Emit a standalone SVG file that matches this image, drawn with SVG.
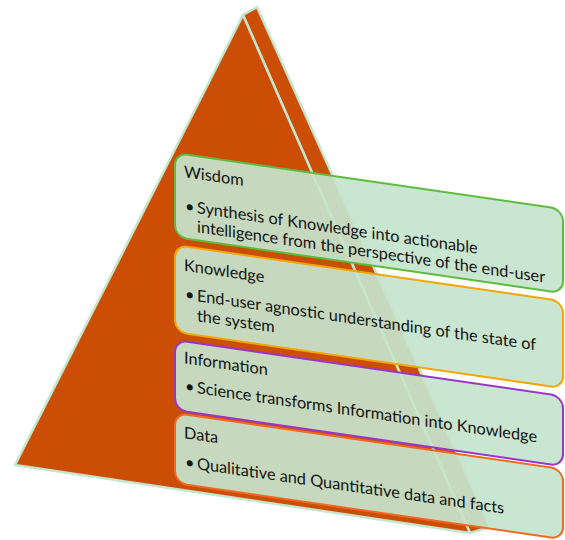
<svg xmlns="http://www.w3.org/2000/svg" width="565" height="540" viewBox="0 0 565 540">
  <style>
    .face { fill: #cc4e06; stroke: #c3e6cc; stroke-width: 2.5; stroke-linejoin: round; }
    .box { fill: rgb(197,228,204); fill-opacity: 0.93; stroke-width: 2; }
    .txt { font-family: Lato, "Open Sans", "Liberation Sans", sans-serif; font-size: 16.3px; fill: #141414; }
  </style>

  <!-- pyramid -->
  <g id="pyramid">
    <polygon class="face" points="243,15 257,7 490,527 470,533"/>
    <polygon class="face" points="243,15 15,465 470,533"/>
  </g>

  <!-- tier boxes, sheared to follow the pyramid's slope -->
  <g id="wisdom" transform="translate(175,153) skewY(8.25)">
    <rect class="box" x="0" y="0" width="388" height="84" rx="12" stroke="#5cbd3c"/>
    <text class="txt" x="9" y="23">Wisdom</text>
    <text class="txt" x="10" y="57">•</text>
    <text class="txt" x="22" y="57">Synthesis of Knowledge into actionable</text>
    <text class="txt" x="22" y="76">intelligence from the perspective of the end-user</text>
  </g>

  <g id="knowledge" transform="translate(175,245) skewY(8.25)">
    <rect class="box" x="0" y="0" width="388" height="87" rx="12" stroke="#f5a500"/>
    <text class="txt" x="9" y="24.5">Knowledge</text>
    <text class="txt" x="10" y="53">•</text>
    <text class="txt" x="22" y="53">End-user agnostic understanding of the state of</text>
    <text class="txt" x="22" y="73">the system</text>
  </g>

  <g id="information" transform="translate(175,340) skewY(8.25)">
    <rect class="box" x="0" y="0" width="388" height="70" rx="12" stroke="#9b35c9"/>
    <text class="txt" x="9" y="22">Information</text>
    <text class="txt" x="10" y="50">•</text>
    <text class="txt" x="22" y="50">Science transforms Information into Knowledge</text>
  </g>

  <g id="data" transform="translate(175,413) skewY(8.25)">
    <rect class="box" x="0" y="0" width="388" height="70" rx="12" stroke="#f26a21"/>
    <text class="txt" x="9" y="24">Data</text>
    <text class="txt" x="10" y="53">•</text>
    <text class="txt" x="22" y="53">Qualitative and Quantitative data and facts</text>
  </g>
</svg>
